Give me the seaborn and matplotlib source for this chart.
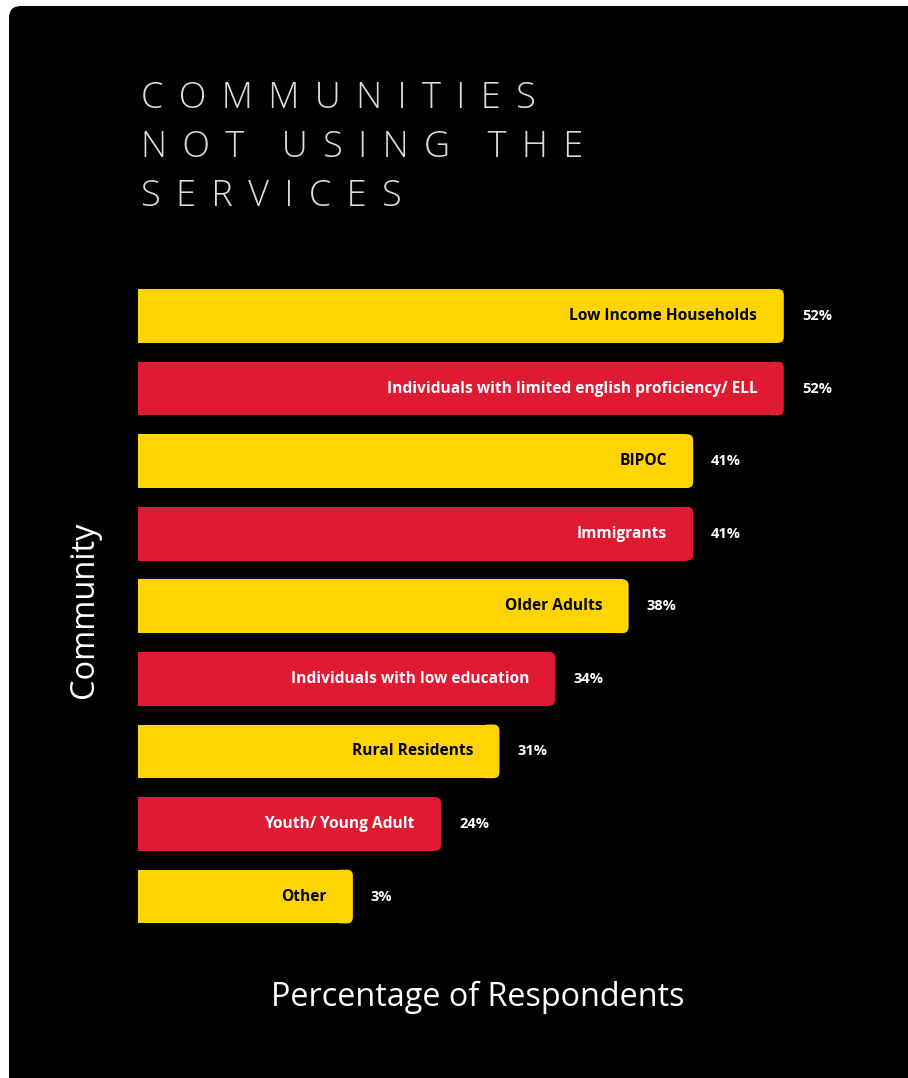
import matplotlib
matplotlib.use("Agg")
import matplotlib.pyplot as plt
from matplotlib.patches import FancyBboxPatch
import seaborn as sns
import pandas as pd

communities = [
    "Low Income Households",
    "Individuals with limited english proficiency/ ELL",
    "BIPOC",
    "Immigrants",
    "Older Adults",
    "Individuals with low education",
    "Rural Residents",
    "Youth/ Young Adult",
    "Other",
]
percent_labels = [52, 52, 41, 41, 38, 34, 31, 24, 3]
# bar lengths as drawn in the picture (same scale as 52% bar)
bar_lengths = [52.0, 52.0, 44.7, 44.7, 39.5, 33.6, 29.1, 24.4, 17.3]
bar_colors = ["#FFD400", "#E01A33"] * 4 + ["#FFD400"]
text_colors = ["#000000", "#FFFFFF"] * 4 + ["#000000"]

title_lines = ["COMMUNITIES", "NOT USING THE", "SERVICES"]
x_label = "Percentage of Respondents"
y_label = "Community"

df = pd.DataFrame({"community": communities, "length": bar_lengths,
                   "pct": percent_labels})

sns.set_theme(style="white")
plt.rcParams["font.family"] = ["Open Sans", "DejaVu Sans"]

W, H = 908, 1078
fig = plt.figure(figsize=(W / 100, H / 100), dpi=100)
fig.patch.set_facecolor("white")

# black rounded panel
panel = FancyBboxPatch((9, -40), 960, H - 6 + 40, boxstyle="round,pad=0,rounding_size=12",
                       transform=None, facecolor="black", edgecolor="none", zorder=-10)
fig.patches.append(panel)

ax_left, ax_right = 138, 908
ax_top, ax_bot = 279.7, 932.8
ax = fig.add_axes([ax_left / W, 1 - ax_bot / H, (ax_right - ax_left) / W, (ax_bot - ax_top) / H])
ax.set_facecolor("none")

sns.barplot(data=df, x="length", y="community", hue="community",
            palette=bar_colors, legend=False, width=0.74, saturation=1,
            ax=ax, orient="h", linewidth=0, edgecolor="none")

px_per_unit = 12.42
ax.set_xlim(0, (ax_right - ax_left) / px_per_unit)
ax.set_ylim(len(communities) - 0.5, -0.5)

# rounded right corners
y_px_per_unit = (ax_bot - ax_top) / len(communities)
r_px = 6
r_u = r_px / px_per_unit
aspect = px_per_unit / y_px_per_unit
for p in list(ax.patches):
    x0, y0 = p.get_x(), p.get_y()
    w, h = p.get_width(), p.get_height()
    fc = p.get_facecolor()
    p.set_width(w - r_u)
    p.set_linewidth(0)
    rb = FancyBboxPatch((x0 + w - 3 * r_u, y0), 3 * r_u, h,
                        boxstyle=f"round,pad=0,rounding_size={r_u}",
                        mutation_aspect=aspect, facecolor=fc, edgecolor="none",
                        linewidth=0)
    ax.add_patch(rb)

for i, (name, L, pct, tc) in enumerate(zip(communities, bar_lengths, percent_labels, text_colors)):
    ax.annotate(name, (L, i), xytext=(-19, 0), textcoords="offset points",
                ha="right", va="center", fontsize=11.2, fontweight="bold", color=tc)
    ax.annotate(f"{pct}%", (L, i), xytext=(13, 0), textcoords="offset points",
                ha="left", va="center", fontsize=10.5, fontweight="bold", color="white")

for s in ax.spines.values():
    s.set_visible(False)
ax.set_xticks([])
ax.set_yticks([])

ax.set_xlabel(x_label, fontsize=23.3, color="white", fontweight="normal")
ax.xaxis.set_label_coords((478 - ax_left) / (ax_right - ax_left), -(981 - ax_bot) / (ax_bot - ax_top))
ax.set_ylabel(y_label, fontsize=23.5, color="white", fontweight="normal")
ax.yaxis.set_label_coords((101 - ax_left) / (ax_right - ax_left), 0.494)

baselines = [108, 157, 206]
letter_gap = " \u2006"
word_gap = "    "
for line, b in zip(title_lines, baselines):
    spaced = word_gap.join(letter_gap.join(list(wd)) for wd in line.split(" "))
    fig.text(141 / W, 1 - b / H, spaced, fontsize=26, color="#DCDCDC",
             fontweight="light", ha="left", va="baseline")

fig.savefig("out.png", dpi=100, facecolor="white")
